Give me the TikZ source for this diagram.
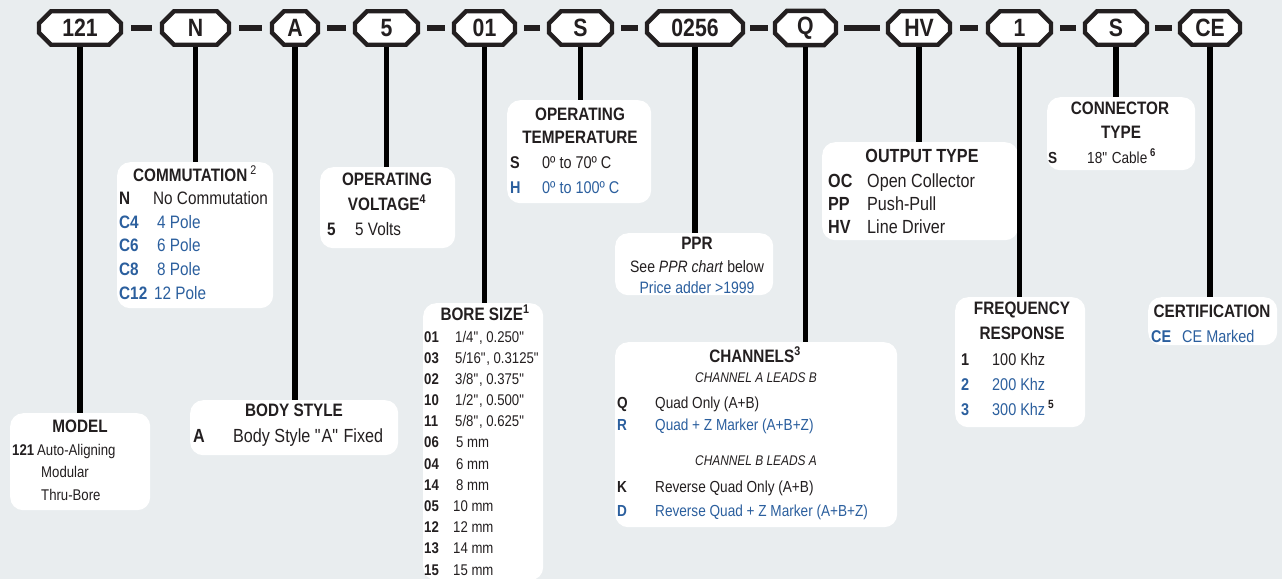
\documentclass[tikz,border=0pt]{standalone}
\usepackage{fontspec}
\setmainfont{Liberation Sans}[FakeStretch=0.85]
\usetikzlibrary{shapes.misc}
\definecolor{bg}{HTML}{E9EDEF}
\definecolor{ink}{HTML}{231F20}
\definecolor{blu}{HTML}{2B5F9E}
\newcommand{\inch}{\textquotedbl}
\tikzset{
  partbox/.style={chamfered rectangle, chamfered rectangle sep=6pt, draw=ink, line width=4.4pt, fill=white, text=ink, inner sep=0pt, minimum height=33.5pt, font=\bfseries\fontsize{25}{25}\selectfont},
  panel/.style={fill=white, rounded corners=13pt, anchor=north west, inner sep=0pt},
  stem/.style={draw=black, line width=5.2pt},
  hyph/.style={draw=ink, line width=6pt},
  heading/.style={text=ink, inner sep=0pt, anchor=base, font=\bfseries\fontsize{18}{18}\selectfont},
  optkey/.style={text=ink, inner sep=0pt, anchor=base west, font=\bfseries\fontsize{#1}{#1}\selectfont},
  optkey/.default=17,
  optval/.style={text=ink, inner sep=0pt, anchor=base west, font=\fontsize{#1}{#1}\selectfont},
  optval/.default=17,
  subhead/.style={text=ink, inner sep=0pt, anchor=base, font=\itshape\fontsize{14}{14}\selectfont},
}
\begin{document}
\begin{tikzpicture}[x=1pt,y=-1pt]
\path[use as bounding box, fill=bg] (0,0) rectangle (1282,579);
% panels
\node[panel, minimum width=140pt, minimum height=97pt] (model) at (10,413) {};
\node[panel, minimum width=156pt, minimum height=146pt] (comm) at (117,162) {};
\node[panel, minimum width=208pt, minimum height=55pt] (body) at (190,400) {};
\node[panel, minimum width=135pt, minimum height=81pt] (volt) at (320,167) {};
\node[panel, minimum width=120pt, minimum height=277pt] (bore) at (423,303) {};
\node[panel, minimum width=144pt, minimum height=103pt] (temp) at (507,100) {};
\node[panel, minimum width=158pt, minimum height=62pt] (ppr) at (615,233) {};
\node[panel, minimum width=282pt, minimum height=185pt] (chan) at (615,342) {};
\node[panel, minimum width=196pt, minimum height=98pt] (outp) at (822,142) {};
\node[panel, minimum width=130pt, minimum height=130pt] (freq) at (955,297) {};
\node[panel, minimum width=148pt, minimum height=73pt] (conn) at (1047,97) {};
\node[panel, minimum width=129pt, minimum height=48pt] (cert) at (1148,297) {};
% part number
\node[partbox, minimum width=82pt] (c121) at (80,28) {121};
\node[partbox, minimum width=67pt] (cN) at (195.5,28) {N};
\node[partbox, minimum width=46pt] (cA) at (295,28) {A};
\node[partbox, minimum width=63pt] (c5) at (386.5,28) {5};
\node[partbox, minimum width=61pt] (c01) at (484.5,28) {01};
\node[partbox, minimum width=63pt] (cS) at (580.5,28) {S};
\node[partbox, minimum width=96pt] (c0256) at (695,28) {0256};
\node[partbox, minimum width=61pt] (cQ) at (805.5,28) {Q};
\node[partbox, minimum width=62pt] (cHV) at (919,28) {HV};
\node[partbox, minimum width=63pt] (c1) at (1019.5,28) {1};
\node[partbox, minimum width=62pt] (cS2) at (1116,28) {S};
\node[partbox, minimum width=60pt] (cCE) at (1210,28) {CE};
% hyphens
\draw[hyph] ([xshift=8pt]c121.east) -- ([xshift=-8pt]cN.west);
\draw[hyph] ([xshift=8pt]cN.east) -- ([xshift=-8pt]cA.west);
\draw[hyph] ([xshift=7pt]cA.east) -- ([xshift=-7pt]c5.west);
\draw[hyph] ([xshift=7pt]c5.east) -- ([xshift=-7pt]c01.west);
\draw[hyph] ([xshift=7pt]c01.east) -- ([xshift=-7pt]cS.west);
\draw[hyph] ([xshift=7pt]cS.east) -- ([xshift=-7pt]c0256.west);
\draw[hyph] ([xshift=5pt]c0256.east) -- ([xshift=-5pt]cQ.west);
\draw[hyph] ([xshift=6pt]cQ.east) -- ([xshift=-6pt]cHV.west);
\draw[hyph] ([xshift=8pt]cHV.east) -- ([xshift=-8pt]c1.west);
\draw[hyph] ([xshift=7pt]c1.east) -- ([xshift=-7pt]cS2.west);
\draw[hyph] ([xshift=6pt]cS2.east) -- ([xshift=-6pt]cCE.west);
% stems
\draw[stem] (c121.south) -- (c121.south |- model.north);
\draw[stem] (cN.south) -- (cN.south |- comm.north);
\draw[stem] (cA.south) -- (cA.south |- body.north);
\draw[stem] (c5.south) -- (c5.south |- volt.north);
\draw[stem] (c01.south) -- (c01.south |- bore.north);
\draw[stem] (cS.south) -- (cS.south |- temp.north);
\draw[stem] (c0256.south) -- (c0256.south |- ppr.north);
\draw[stem] (cQ.south) -- (cQ.south |- chan.north);
\draw[stem] (cHV.south) -- (cHV.south |- outp.north);
\draw[stem] (c1.south) -- (c1.south |- freq.north);
\draw[stem] (cS2.south) -- (cS2.south |- conn.north);
\draw[stem] (cCE.south) -- (cCE.south |- cert.north);
% model
\node[heading] (modelT) at (80,432) {MODEL};
\node[optkey=15.5] (model1k) at (12,455) {121};
\node[optval=15.5] (model1v) at (37,455) {Auto-Aligning};
\node[optval=15.5] (model2v) at (41,477) {Modular};
\node[optval=15.5] (model3v) at (41,500) {Thru-Bore};
% commutation
\node[heading] (commT) at (195,181) {COMMUTATION\,\textsuperscript{\mdseries 2}};
\node[optkey=18] (comm1k) at (119,204) {N};
\node[optval=18] (comm1v) at (153,204) {No Commutation};
\node[optkey=18, text=blu] (comm2k) at (119,228) {C4};
\node[optval=18, text=blu] (comm2v) at (157,228) {4 Pole};
\node[optkey=18, text=blu] (comm3k) at (119,251) {C6};
\node[optval=18, text=blu] (comm3v) at (157,251) {6 Pole};
\node[optkey=18, text=blu] (comm4k) at (119,275) {C8};
\node[optval=18, text=blu] (comm4v) at (157,275) {8 Pole};
\node[optkey=18, text=blu] (comm5k) at (119,299) {C12};
\node[optval=18, text=blu] (comm5v) at (154,299) {12 Pole};
% body style
\node[heading] (bodyT) at (294,416) {BODY STYLE};
\node[optkey=19] (body1k) at (193,442) {A};
\node[optval=19] (body1v) at (233,442) {Body Style \inch A\inch{} Fixed};
% voltage
\node[heading] (voltT) at (387,185) {OPERATING};
\node[heading] (voltT2) at (387,210) {VOLTAGE\textsuperscript{4}};
\node[optkey=18] (volt1k) at (327,235) {5};
\node[optval=18] (volt1v) at (355,235) {5 Volts};
% bore size
\node[heading] (boreT) at (485,320) {BORE SIZE\textsuperscript{1}};
\node[optkey=15.5] (bore1k) at (424,342) {01};
\node[optval=15.5] (bore1v) at (455,342) {1/4\inch, 0.250\inch};
\node[optkey=15.5] (bore2k) at (424,363.2) {03};
\node[optval=15.5] (bore2v) at (455,363.2) {5/16\inch, 0.3125\inch};
\node[optkey=15.5] (bore3k) at (424,384.4) {02};
\node[optval=15.5] (bore3v) at (455,384.4) {3/8\inch, 0.375\inch};
\node[optkey=15.5] (bore4k) at (424,405.5) {10};
\node[optval=15.5] (bore4v) at (455,405.5) {1/2\inch, 0.500\inch};
\node[optkey=15.5] (bore5k) at (424,426.7) {11};
\node[optval=15.5] (bore5v) at (455,426.7) {5/8\inch, 0.625\inch};
\node[optkey=15.5] (bore6k) at (424,447.9) {06};
\node[optval=15.5] (bore6v) at (456,447.9) {5 mm};
\node[optkey=15.5] (bore7k) at (424,469.1) {04};
\node[optval=15.5] (bore7v) at (456,469.1) {6 mm};
\node[optkey=15.5] (bore8k) at (424,490.3) {14};
\node[optval=15.5] (bore8v) at (456,490.3) {8 mm};
\node[optkey=15.5] (bore9k) at (424,511.4) {05};
\node[optval=15.5] (bore9v) at (453,511.4) {10 mm};
\node[optkey=15.5] (bore10k) at (424,532.6) {12};
\node[optval=15.5] (bore10v) at (453,532.6) {12 mm};
\node[optkey=15.5] (bore11k) at (424,553.8) {13};
\node[optval=15.5] (bore11v) at (453,553.8) {14 mm};
\node[optkey=15.5] (bore12k) at (424,575) {15};
\node[optval=15.5] (bore12v) at (453,575) {15 mm};
% temperature
\node[heading] (tempT) at (580,120) {OPERATING};
\node[heading] (tempT2) at (580,143) {TEMPERATURE};
\node[optkey] (temp1k) at (510,168) {S};
\node[optval] (temp1v) at (542,168) {0º to 70º C};
\node[optkey, text=blu] (temp2k) at (510,193) {H};
\node[optval, text=blu] (temp2v) at (542,193) {0º to 100º C};
% ppr
\node[heading] (pprT) at (697,249) {PPR};
\node[optval=16.5, anchor=base] (ppr1) at (697,272) {See \textit{PPR chart} below};
\node[optval=16.5, anchor=base, text=blu] (ppr2) at (697,293) {Price adder >1999};
% channels
\node[heading] (chanT) at (755,362) {CHANNELS\textsuperscript{3}};
\node[subhead] (chanA) at (756,382) {CHANNEL A LEADS B};
\node[optkey=16] (chan1k) at (617,408) {Q};
\node[optval=16] (chan1v) at (655,408) {Quad Only (A+B)};
\node[optkey=16, text=blu] (chan2k) at (617,430) {R};
\node[optval=16, text=blu] (chan2v) at (655,430) {Quad + Z Marker (A+B+Z)};
\node[subhead] (chanB) at (756,465) {CHANNEL B LEADS A};
\node[optkey=16] (chan3k) at (617,492) {K};
\node[optval=16] (chan3v) at (655,492) {Reverse Quad Only (A+B)};
\node[optkey=16, text=blu] (chan4k) at (617,516) {D};
\node[optval=16, text=blu] (chan4v) at (655,516) {Reverse Quad + Z Marker (A+B+Z)};
% output type
\node[heading, font=\bfseries\fontsize{19}{19}\selectfont] (outpT) at (922,162) {OUTPUT TYPE};
\node[optkey=19] (outp1k) at (828,187) {OC};
\node[optval=19] (outp1v) at (867,187) {Open Collector};
\node[optkey=19] (outp2k) at (828,210) {PP};
\node[optval=19] (outp2v) at (867,210) {Push-Pull};
\node[optkey=19] (outp3k) at (828,233) {HV};
\node[optval=19] (outp3v) at (867,233) {Line Driver};
% frequency response
\node[heading] (freqT) at (1022,314) {FREQUENCY};
\node[heading] (freqT2) at (1022,339) {RESPONSE};
\node[optkey] (freq1k) at (961,365) {1};
\node[optval] (freq1v) at (992,365) {100 Khz};
\node[optkey, text=blu] (freq2k) at (961,390) {2};
\node[optval, text=blu] (freq2v) at (992,390) {200 Khz};
\node[optkey, text=blu] (freq3k) at (961,415) {3};
\node[optval, text=blu] (freq3v) at (992,415) {300 Khz\,\textcolor{ink}{\textsuperscript{\bfseries 5}}};
% connector type
\node[heading] (connT) at (1120,114) {CONNECTOR};
\node[heading] (connT2) at (1121,138) {TYPE};
\node[optkey=16] (conn1k) at (1048,163) {S};
\node[optval=16] (conn1v) at (1087,163) {18\inch{} Cable\,\textsuperscript{\bfseries 6}};
% certification
\node[heading] (certT) at (1212,317) {CERTIFICATION};
\node[optkey, text=blu] (cert1k) at (1151,342) {CE};
\node[optval, text=blu] (cert1v) at (1182,342) {CE Marked};
\end{tikzpicture}
\end{document}
